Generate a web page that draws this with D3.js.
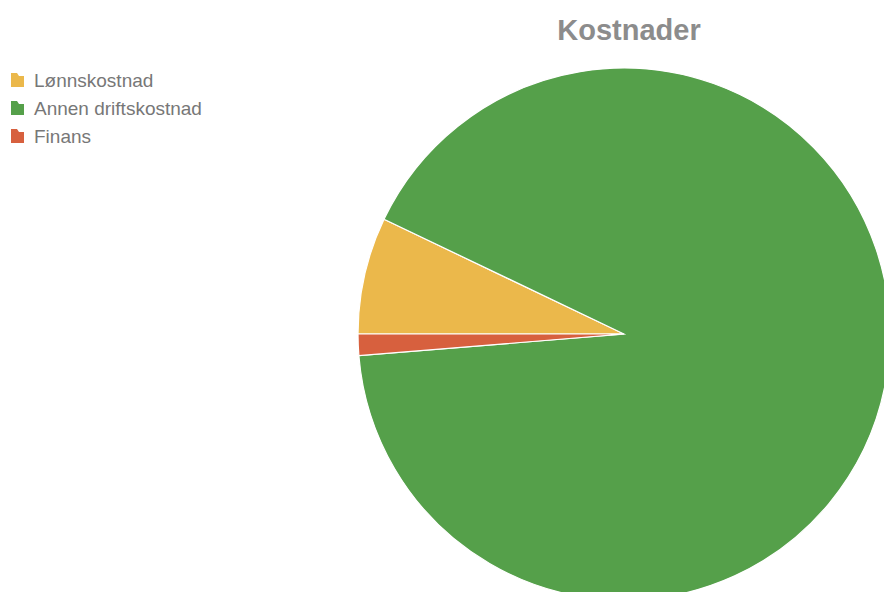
<!DOCTYPE html>
<html>
<head>
<meta charset="utf-8">
<script src="https://cdn.jsdelivr.net/npm/d3@7"></script>
<style>
  body { margin: 0; background: #fff; }
  text { font-family: "Liberation Sans", Arial, sans-serif; }
</style>
</head>
<body>
<div class="htmlcontainer"></div>
<script>
// data (shares in %)
var categories = ["Lønnskostnad", "Annen driftskostnad", "Finans"];
var values = [7.1, 91.6, 1.3];
var colors = ["#ebb84b", "#55a04a", "#d7603e"];

var width = 884;
var height = 592;

var svg = d3.select(".htmlcontainer").append("svg")
  .attr("width", width)
  .attr("height", height);

var color = d3.scaleOrdinal().domain(categories).range(colors);

// pie starts at 9 o'clock and runs clockwise
var pie = d3.pie().sort(null)
  .startAngle(-Math.PI / 2)
  .endAngle(Math.PI * 1.5)
  .value(function(d) { return d.value; });

var data = categories.map(function(c, i) { return {name: c, value: values[i]}; });

var radius = 266;
var arc = d3.arc().innerRadius(0).outerRadius(radius);

var g = svg.append("g").attr("transform", "translate(624,334)");
g.selectAll("path")
  .data(pie(data))
  .enter().append("path")
  .attr("d", arc)
  .attr("fill", function(d) { return color(d.data.name); })
  .attr("stroke", "#fff")
  .attr("stroke-width", 1.2);

//title
svg.append("text")
  .attr("x", 629)
  .attr("y", 40)
  .attr("text-anchor", "middle")
  .attr("font-size", 29)
  .attr("font-weight", "bold")
  .attr("fill", "#8c8c8c")
  .text("Kostnader");

//legend
var legend = svg.append("g").attr("transform", "translate(10,80)");
var item = legend.selectAll("g")
  .data(categories)
  .enter().append("g")
  .attr("transform", function(d, i) { return "translate(0," + (i * 28) + ")"; });

item.append("path")
  .attr("d", "M1,-7 L7,-7 L9,-4 L14,-4 L14,7 L1,7 Z")
  .attr("fill", function(d) { return color(d); });

item.append("text")
  .attr("x", 24)
  .attr("y", 7)
  .attr("font-size", 19)
  .attr("fill", "#777")
  .text(function(d) { return d; });
</script>
</body>
</html>
